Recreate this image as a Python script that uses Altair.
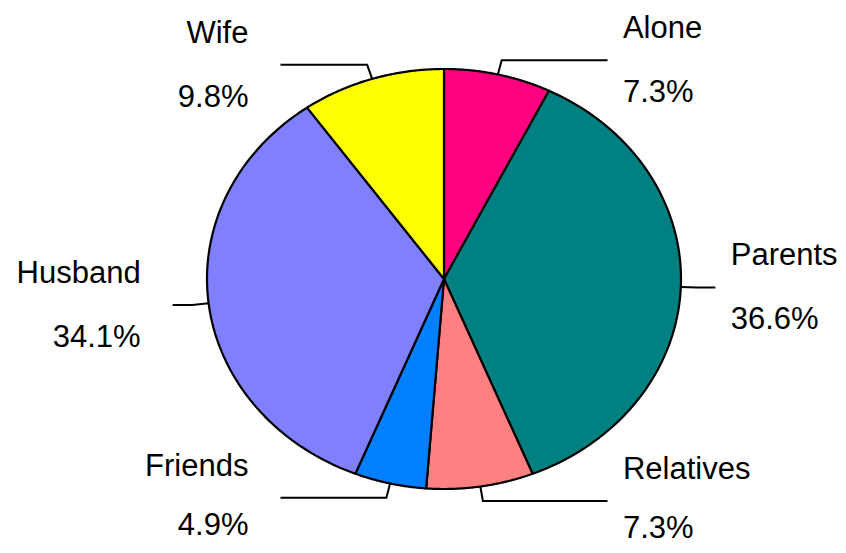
import altair as alt
import pandas as pd

# ---- data ----
categories = ["Alone", "Parents", "Relatives", "Friends", "Husband", "Wife"]
values = [7.3, 36.6, 7.3, 4.9, 34.1, 9.8]
colors = ["#FF0080", "#008080", "#FF8080", "#0080FF", "#8080FF", "#FFFF00"]

df = pd.DataFrame({"category": categories, "value": values, "idx": list(range(len(categories)))})

# ---- layout (chart size and ellipse geometry in svg pixels) ----
W, H = 830, 537
CX, CY, RX, RY = 436, 271, 237, 210
xs = alt.Scale(domain=[-CX / RX, (W - CX) / RX], nice=False, zero=False)
ys = alt.Scale(domain=[(CY - H) / RY, CY / RY], nice=False, zero=False)
cs = alt.Scale(domain=categories, range=colors)
N = 90
FONT = "Liberation Sans"
FS = 31

base = (
    alt.Chart(df)
    .transform_window(cum="sum(value)", sort=[alt.SortField("idx")], frame=[None, 0])
    .transform_joinaggregate(total="sum(value)")
    .transform_calculate(
        a0="2*PI*(datum.cum-datum.value)/datum.total",
        a1="2*PI*datum.cum/datum.total",
        pct="format(datum.value/datum.total, '.1%')",
    )
    .transform_calculate(mid="(datum.a0+datum.a1)/2")
    .transform_calculate(
        sx="sin(datum.mid)",
        cy="cos(datum.mid)",
        side="sin(datum.mid) >= 0 ? 1 : -1",
        far="abs(cos(datum.mid)) < 0.5 ? 1.145 : 0.69",
    )
)

slices = (
    base.transform_calculate(k=f"sequence(0, {N + 3})")
    .transform_flatten(["k"])
    .transform_calculate(
        t=f"clamp(datum.k-1, 0, {N})/{N}",
        rr=f"(datum.k==0 || datum.k=={N + 2}) ? 0 : 1",
    )
    .transform_calculate(ang="datum.a0+(datum.a1-datum.a0)*datum.t")
    .transform_calculate(px="datum.rr*sin(datum.ang)", py="datum.rr*cos(datum.ang)")
    .mark_line(filled=True, stroke="black", strokeWidth=2.2, strokeJoin="round")
    .encode(
        x=alt.X("px:Q", scale=xs, axis=None),
        y=alt.Y("py:Q", scale=ys, axis=None),
        color=alt.Color("category:N", scale=cs, legend=None),
        order=alt.Order("k:Q"),
    )
)

leaders = (
    base.transform_calculate(k="sequence(0, 3)")
    .transform_flatten(["k"])
    .transform_calculate(
        lx="datum.k==0 ? datum.sx : (datum.k==1 ? 1.07*datum.sx : datum.side*datum.far)",
        ly="datum.k==0 ? datum.cy : 1.07*datum.cy",
    )
    .mark_line(color="black", strokeWidth=2)
    .encode(
        x=alt.X("lx:Q", scale=xs, axis=None),
        y=alt.Y("ly:Q", scale=ys, axis=None),
        detail="category:N",
        order=alt.Order("k:Q"),
    )
)

lab = base.transform_calculate(
    tx="datum.side*datum.far + (datum.side > 0 ? 0.065 : -0.135)",
    ty="1.07*datum.cy",
).transform_calculate(
    ty2=f"datum.ty - (datum.cy < -0.5 ? {37 / RY} : {42 / RY})",
)


def text_layer(side_filter, align, field, yfield, dy):
    return (
        lab.transform_filter(side_filter)
        .mark_text(font=FONT, fontSize=FS, align=align, baseline="alphabetic", dy=dy, color="black")
        .encode(
            x=alt.X("tx:Q", scale=xs, axis=None),
            y=alt.Y(f"{yfield}:Q", scale=ys, axis=None),
            text=f"{field}:N",
        )
    )


texts = [
    text_layer("datum.side > 0", "left", "category", "ty", -22),
    text_layer("datum.side > 0", "left", "pct", "ty2", 0),
    text_layer("datum.side < 0", "right", "category", "ty", -22),
    text_layer("datum.side < 0", "right", "pct", "ty2", 0),
]

chart = (
    alt.layer(slices, leaders, *texts)
    .properties(width=W, height=H, autosize=alt.AutoSizeParams(type="none"), padding=0, background="white")
    .configure_view(stroke=None)
)

chart.save("out.html", embed_options={"renderer": "svg", "actions": False})
